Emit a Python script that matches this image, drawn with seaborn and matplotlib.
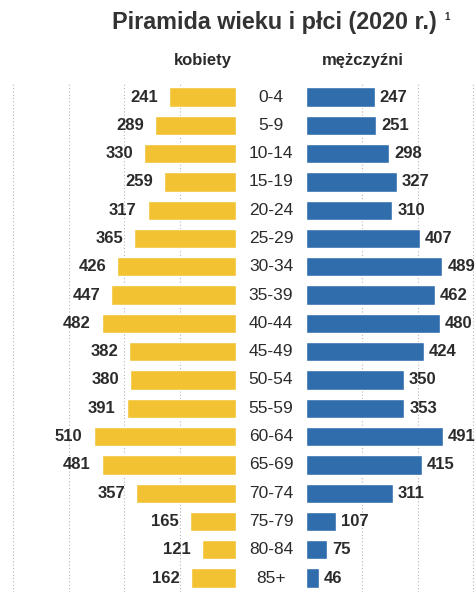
import matplotlib
matplotlib.use("Agg")
import matplotlib.pyplot as plt
import matplotlib.transforms as mtransforms
import seaborn as sns

ages = ["0-4", "5-9", "10-14", "15-19", "20-24", "25-29", "30-34", "35-39", "40-44",
        "45-49", "50-54", "55-59", "60-64", "65-69", "70-74", "75-79", "80-84", "85+"]
kobiety = [241, 289, 330, 259, 317, 365, 426, 447, 482, 382, 380, 391, 510, 481, 357, 165, 121, 162]
mezczyzni = [247, 251, 298, 327, 310, 407, 489, 462, 480, 424, 350, 353, 491, 415, 311, 107, 75, 46]

YELLOW = "#F2C232"
BLUE = "#2F6DAD"
TXT = "#2b2b2b"

sns.set_style("white")
plt.rcParams["font.family"] = ["Liberation Sans", "DejaVu Sans"]

W, H = 477, 592
fig = plt.figure(figsize=(W / 100, H / 100), dpi=100)

# axes placed in pixel units
top_px, bot_px = 82, 592
row0, step = 97, 28.3
y_top = (top_px - row0) / step
y_bot = (bot_px - row0) / step
scale = 0.279  # px per unit

ax_l = fig.add_axes([0, 1 - bot_px / H, 236 / W, (bot_px - top_px) / H])
ax_r = fig.add_axes([306 / W, 1 - bot_px / H, 171 / W, (bot_px - top_px) / H])

sns.barplot(x=kobiety, y=ages, orient="h", color=YELLOW, saturation=1, width=0.68, ax=ax_l)
sns.barplot(x=mezczyzni, y=ages, orient="h", color=BLUE, saturation=1, width=0.68, ax=ax_r)

ax_l.set_xlim(236 / scale, 0)
ax_r.set_xlim(0, 171 / scale)

for ax, ticks in [(ax_l, [200, 400, 600, 800]), (ax_r, [200, 400, 600])]:
    ax.set_ylim(y_bot, y_top)
    ax.set_xticks(ticks)
    ax.set_yticks([])
    ax.tick_params(length=0, labelbottom=False, labelleft=False)
    ax.set_xlabel("")
    ax.set_ylabel("")
    ax.grid(axis="x", color="#b5b5b5", linestyle=(0, (1, 2)), linewidth=0.8)
    ax.set_axisbelow(True)
    for s in ax.spines.values():
        s.set_visible(False)
    ax.patch.set_alpha(0)

# value labels
for i, v in enumerate(kobiety):
    ax_l.annotate(str(v), (v, i), xytext=(-8, 0), textcoords="offset points",
                  ha="right", va="center", fontsize=12, fontweight="bold", color=TXT,
                  annotation_clip=False)
for i, v in enumerate(mezczyzni):
    ax_r.annotate(str(v), (v, i), xytext=(3.5, 0), textcoords="offset points",
                  ha="left", va="center", fontsize=12, fontweight="bold", color=TXT,
                  annotation_clip=False)

# age group labels in the middle
trans = mtransforms.blended_transform_factory(fig.transFigure, ax_l.transData)
for i, a in enumerate(ages):
    fig.text(271 / W, i, a, transform=trans, ha="center", va="center",
             fontsize=12.5, color=TXT)

fig.text(274 / W, 1 - 23 / H, "Piramida wieku i płci (2020 r.)", ha="center", va="center",
         fontsize=16.8, fontweight="bold", color="#333333")
fig.text(447 / W, 1 - 17 / H, "1", ha="center", va="center", fontsize=7,
         fontweight="bold", color="#333333")
fig.text(203 / W, 1 - 60 / H, "kobiety", ha="center", va="center",
         fontsize=12, fontweight="bold", color=TXT)
fig.text(363 / W, 1 - 60 / H, "mężczyźni", ha="center", va="center",
         fontsize=12, fontweight="bold", color=TXT)

fig.savefig("out.png", dpi=100, facecolor="white")
